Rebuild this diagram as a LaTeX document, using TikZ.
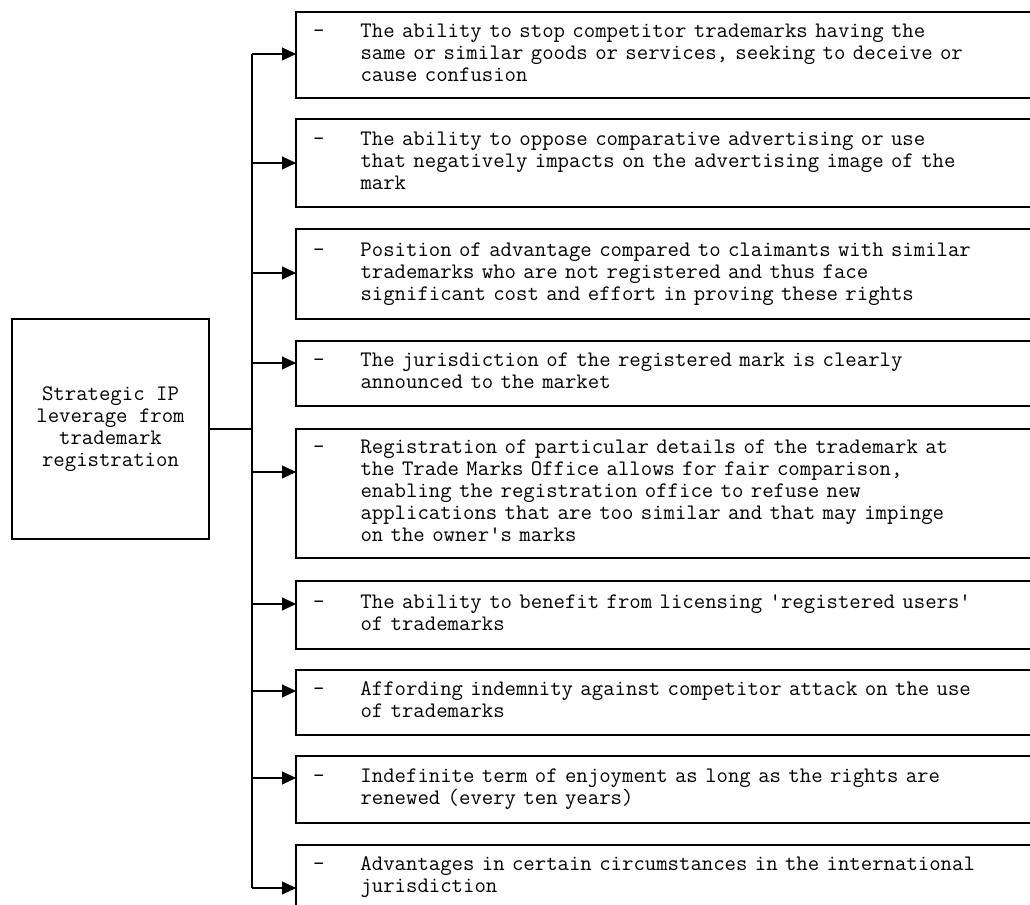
\documentclass[tikz,border=0pt]{standalone}
\usepackage{fontspec}
\usepackage{tikz}
\usetikzlibrary{positioning,calc,arrows.meta}

\newcommand{\pointtext}[1]{\begin{tabular}{@{}p{0.95cm}@{}l@{}}-&#1\end{tabular}}

\begin{document}
\begin{tikzpicture}[
    font=\ttfamily\fontsize{12.6}{12.52}\selectfont,
    rootbox/.style={draw, line width=0.8pt, outer sep=0pt, align=center, minimum width=3.94cm, minimum height=4.4cm},
    pointbox/.style={draw, line width=0.8pt, outer sep=0pt, anchor=north west, inner xsep=0.34cm, inner ysep=0pt, text width=14.1cm, align=left},
    link/.style={line width=0.6pt},
    arr/.style={line width=0.6pt, -{Triangle[length=0.28cm, width=0.26cm]}}
]
    \useasboundingbox (0,0) rectangle (20.6,18.1);

    % Root box
    \node [rootbox] (root) at (2.21, 9.52) {Strategic IP\\leverage from\\trademark\\registration};

    % Points
    \node [pointbox, minimum height=1.72cm] (p1) at (5.92, 17.86) {\pointtext{The ability to stop competitor trademarks having the\\&same or similar goods or services, seeking to deceive or\\&cause confusion}};
    \node [pointbox, minimum height=1.76cm] (p2) at (5.92, 15.72) {\pointtext{The ability to oppose comparative advertising or use\\&that negatively impacts on the advertising image of the\\&mark}};
    \node [pointbox, minimum height=1.80cm] (p3) at (5.92, 13.52) {\pointtext{Position of advantage compared to claimants with similar\\&trademarks who are not registered and thus face\\&significant cost and effort in proving these rights}};
    \node [pointbox, minimum height=1.30cm] (p4) at (5.92, 11.28) {\pointtext{The jurisdiction of the registered mark is clearly\\&announced to the market}};
    \node [pointbox, minimum height=2.58cm] (p5) at (5.92, 9.52) {\pointtext{Registration of particular details of the trademark at\\&the Trade Marks Office allows for fair comparison,\\&enabling the registration office to refuse new\\&applications that are too similar and that may impinge\\&on the owner's marks}};
    \node [pointbox, minimum height=1.36cm] (p6) at (5.92, 6.48) {\pointtext{The ability to benefit from licensing 'registered users'\\&of trademarks}};
    \node [pointbox, minimum height=1.30cm] (p7) at (5.92, 4.70) {\pointtext{Affording indemnity against competitor attack on the use\\&of trademarks}};
    \node [pointbox, minimum height=1.34cm] (p8) at (5.92, 2.98) {\pointtext{Indefinite term of enjoyment as long as the rights are\\&renewed (every ten years)}};
    \node [pointbox, minimum height=1.30cm] (p9) at (5.92, 1.20) {\pointtext{Advantages in certain circumstances in the international\\&jurisdiction}};

    % Trunk points
    \coordinate (t1) at (5.04, 17.02);
    \coordinate (t2) at (5.04, 14.84);
    \coordinate (t3) at (5.04, 12.64);
    \coordinate (t4) at (5.04, 10.84);
    \coordinate (t5) at (5.04, 8.66);
    \coordinate (t6) at (5.04, 6.02);
    \coordinate (t7) at (5.04, 4.28);
    \coordinate (t8) at (5.04, 2.54);
    \coordinate (t9) at (5.04, 0.34);

    % Connectors
    \draw [link] (root.east) -- (root.east -| t1);
    \draw [link] (t1) -- (t9);
    \draw [arr] (t1) -- (t1 -| p1.west);
    \draw [arr] (t2) -- (t2 -| p2.west);
    \draw [arr] (t3) -- (t3 -| p3.west);
    \draw [arr] (t4) -- (t4 -| p4.west);
    \draw [arr] (t5) -- (t5 -| p5.west);
    \draw [arr] (t6) -- (t6 -| p6.west);
    \draw [arr] (t7) -- (t7 -| p7.west);
    \draw [arr] (t8) -- (t8 -| p8.west);
    \draw [arr] (t9) -- (t9 -| p9.west);

\end{tikzpicture}
\end{document}
